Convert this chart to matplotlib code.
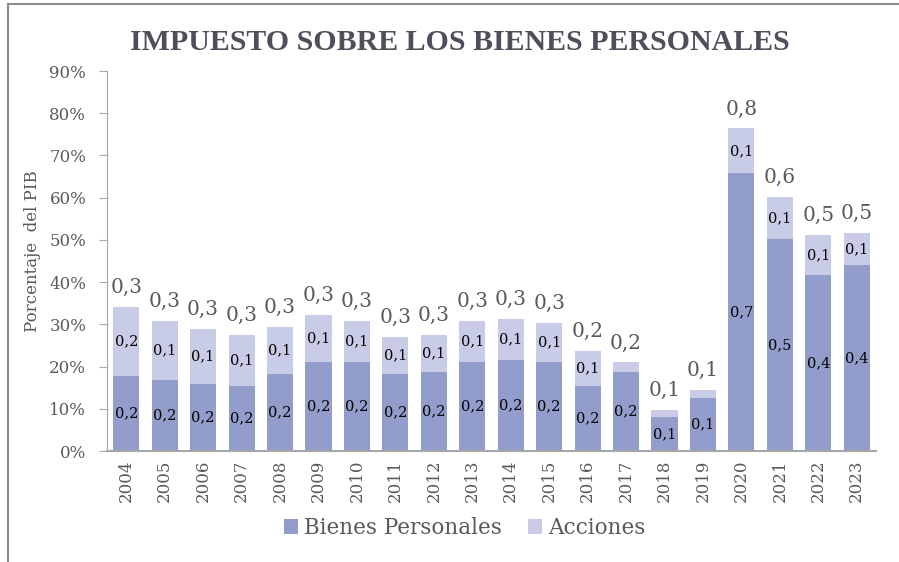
import matplotlib.pyplot as plt
import numpy as np
from matplotlib.ticker import PercentFormatter
from matplotlib.lines import Line2D

# datos (fracción del PIB)
years = ['2004', '2005', '2006', '2007', '2008', '2009', '2010', '2011', '2012', '2013',
         '2014', '2015', '2016', '2017', '2018', '2019', '2020', '2021', '2022', '2023']
bienes = [0.178, 0.168, 0.158, 0.154, 0.182, 0.210, 0.210, 0.182, 0.187, 0.210,
          0.215, 0.210, 0.154, 0.187, 0.080, 0.125, 0.658, 0.502, 0.416, 0.440]
acciones = [0.164, 0.140, 0.132, 0.121, 0.112, 0.112, 0.098, 0.088, 0.088, 0.098,
            0.098, 0.093, 0.084, 0.023, 0.018, 0.020, 0.106, 0.100, 0.096, 0.077]

c_bp = '#939dcb'
c_acc = '#c9cce6'
gris = '#595959'
serif = 'DejaVu Serif'

fig = plt.figure(figsize=(8.99, 5.62), dpi=100)
ax = fig.add_axes([107 / 899, 1 - 451 / 562, (876 - 107) / 899, (451 - 71) / 562])

x = np.arange(len(years))
bienes = np.array(bienes)
acciones = np.array(acciones)
total = bienes + acciones

b1 = ax.bar(x, bienes, width=0.68, color=c_bp, label='Bienes Personales')
b2 = ax.bar(x, acciones, width=0.68, bottom=bienes, color=c_acc, label='Acciones')

def fmt(v):
    return f'{v:.1f}'.replace('.', ',')

for i in range(len(years)):
    ax.text(x[i], bienes[i] / 2, fmt(bienes[i]), ha='center', va='center',
            fontsize=10.5, family=serif, color='black')
    if acciones[i] > 0.05:
        ax.text(x[i], bienes[i] + acciones[i] / 2, fmt(acciones[i]), ha='center',
                va='center', fontsize=10.5, family=serif, color='black')
    ax.annotate(fmt(total[i]), (x[i], total[i]), xytext=(0, 7), textcoords='offset points',
                ha='center', va='bottom', fontsize=14.5, family=serif, color=gris)

ax.set_xlim(-0.5, len(years) - 0.5)
ax.set_ylim(0, 0.9)
ax.set_yticks(np.arange(0, 0.91, 0.1))
ax.yaxis.set_major_formatter(PercentFormatter(1.0, decimals=0))
ax.set_xticks(x)
ax.set_xticklabels(years, rotation=90)

for lab in ax.get_yticklabels() + ax.get_xticklabels():
    lab.set_family(serif)
    lab.set_color(gris)
    lab.set_fontsize(12)

ax.spines['top'].set_visible(False)
ax.spines['right'].set_visible(False)
ax.spines['left'].set_color('#a6a6a6')
ax.spines['bottom'].set_color('#a6a6a6')
ax.spines['bottom'].set_linewidth(1.5)
ax.tick_params(axis='y', color='#a6a6a6', length=6, pad=9)
ax.tick_params(axis='x', length=0, pad=6)

ax.set_ylabel('Porcentaje  del PIB', family=serif, color=gris, fontsize=12, va='center')
ax.yaxis.set_label_coords(-(107 - 33) / 769, (451 - 251) / 380)

fig.text(460 / 899, 1 - 43 / 562, 'IMPUESTO SOBRE LOS BIENES PERSONALES', ha='center',
         va='center', fontsize=21.5, fontweight='bold', family='Liberation Serif', color='#4d4f5a')

fig.legend(handles=[b1, b2], loc='center', bbox_to_anchor=(465 / 899, 1 - 528 / 562),
           ncol=2, frameon=False, prop={'family': serif, 'size': 15.5},
           handlelength=0.65, handleheight=0.65, handletextpad=0.3, columnspacing=1.2,
           labelcolor=gris)

# marco
fig.add_artist(Line2D([8 / 899, 8 / 899], [0, 1 - 4 / 562], color='#8c8c8c', lw=1.5))
fig.add_artist(Line2D([8 / 899, 1], [1 - 4 / 562, 1 - 4 / 562], color='#8c8c8c', lw=1.5))

fig.savefig('out.png', dpi=100)
